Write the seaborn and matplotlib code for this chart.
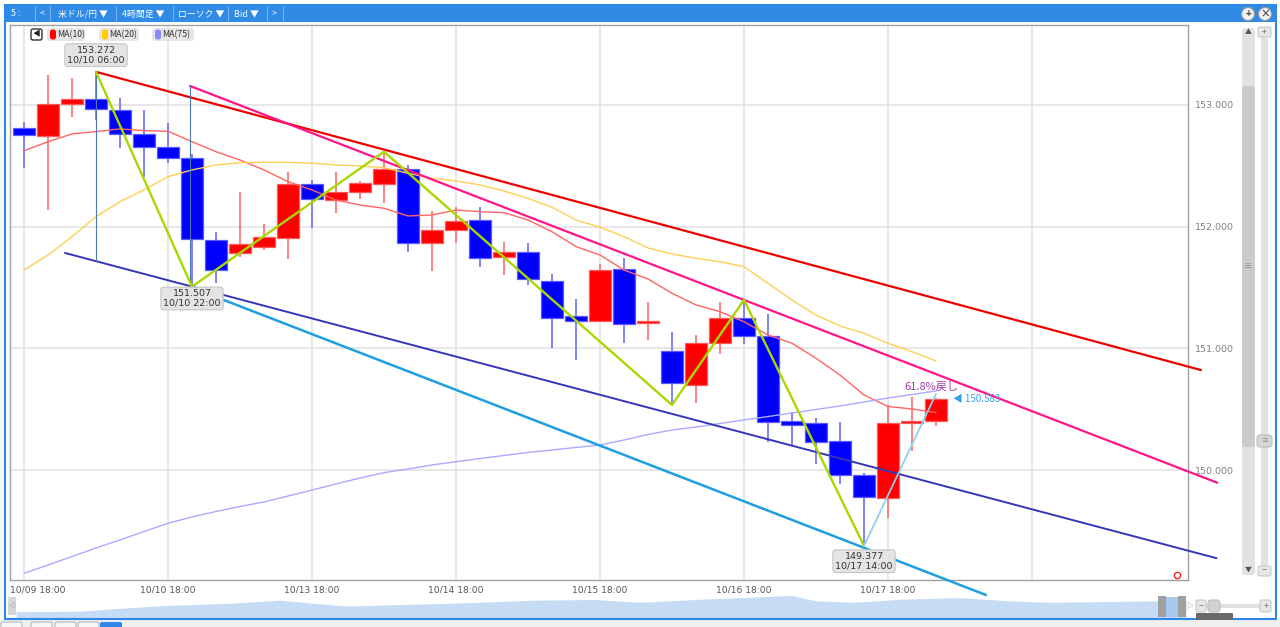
import numpy as np
import pandas as pd
import matplotlib
matplotlib.use("Agg")
import matplotlib.pyplot as plt
import matplotlib.transforms as mtransforms
from matplotlib.patches import Rectangle, FancyBboxPatch, Circle
import seaborn as sns

sns.set_theme(style="white")
plt.rcParams['font.family'] = ['DejaVu Sans', 'Noto Sans CJK JP']
JP = ['Noto Sans CJK JP', 'DejaVu Sans']

# --- USD/JPY 4時間足 (Bid) ---
opens = [152.813, 152.748, 153.008, 153.052, 152.956, 152.764, 152.655, 152.565, 151.891, 151.781,
         151.831, 151.905, 152.348, 152.219, 152.288, 152.351, 152.474, 151.869, 151.973, 152.055,
         151.753, 151.790, 151.554, 151.266, 151.225, 151.650, 151.206, 150.979, 150.699, 151.047,
         151.252, 151.102, 150.403, 150.385, 150.237, 149.962, 149.773, 150.390, 150.403]
highs = [152.863, 153.247, 153.219, 153.272, 153.060, 152.959, 152.855, 152.600, 151.954, 152.283,
         152.020, 152.447, 152.384, 152.452, 152.378, 152.616, 152.507, 152.131, 152.159, 152.164,
         151.877, 151.869, 151.609, 151.403, 151.694, 151.743, 151.385, 151.132, 151.110, 151.379,
         151.398, 151.283, 150.475, 150.431, 150.393, 149.974, 150.535, 150.598, 150.592]
lows = [152.480, 152.137, 152.904, 152.877, 152.649, 152.411, 152.526, 151.507, 151.540, 151.753,
        151.809, 151.732, 151.987, 152.115, 152.225, 152.197, 151.790, 151.636, 151.869, 151.671,
        151.603, 151.520, 151.006, 150.905, 151.221, 151.047, 151.065, 150.535, 150.550, 150.952,
        151.034, 150.233, 150.206, 150.048, 149.886, 149.377, 149.604, 150.159, 150.365]
closes = [152.753, 153.011, 153.052, 152.967, 152.762, 152.652, 152.562, 151.896, 151.644, 151.855,
          151.918, 152.348, 152.225, 152.288, 152.357, 152.474, 151.869, 151.973, 152.049, 151.745,
          151.795, 151.568, 151.247, 151.223, 151.644, 151.198, 151.228, 150.713, 151.047, 151.247,
          151.102, 150.393, 150.371, 150.228, 149.960, 149.777, 150.385, 150.406, 150.583]

ma10 = [152.624, 152.698, 152.762, 152.781, 152.803, 152.789, 152.784, 152.698, 152.616, 152.548,
        152.466, 152.370, 152.302, 152.219, 152.178, 152.151, 152.088, 152.096, 152.137, 152.123,
        152.115, 152.055, 151.959, 151.836, 151.767, 151.644, 151.570, 151.453, 151.357, 151.302,
        151.219, 151.110, 151.042, 150.919, 150.781, 150.617, 150.523, 150.502, 150.473]
ma20 = [151.644, 151.767, 151.918, 152.082, 152.205, 152.302, 152.411, 152.466, 152.507, 152.526,
        152.529, 152.529, 152.521, 152.507, 152.499, 152.485, 152.439, 152.398, 152.376, 152.343,
        152.293, 152.233, 152.159, 152.055, 151.995, 151.918, 151.825, 151.776, 151.740, 151.712,
        151.671, 151.535, 151.398, 151.274, 151.184, 151.124, 151.042, 150.973, 150.896]
ma75 = [149.152, 149.220, 149.290, 149.360, 149.426, 149.495, 149.563, 149.615, 149.660, 149.701,
        149.738, 149.787, 149.836, 149.886, 149.935, 149.979, 150.009, 150.042, 150.069, 150.095,
        150.120, 150.145, 150.165, 150.186, 150.206, 150.247, 150.293, 150.329, 150.354, 150.383,
        150.412, 150.440, 150.469, 150.498, 150.527, 150.560, 150.592, 150.621, 150.650]
ma_names = ["MA(10)", "MA(20)", "MA(75)"]

x_tick_pos = [0, 6, 12, 18, 24, 30, 36, 42]
x_labels = ["10/09 18:00", "10/10 18:00", "10/13 18:00", "10/14 18:00",
            "10/15 18:00", "10/16 18:00", "10/17 18:00", ""]
y_ticks = [150.0, 151.0, 152.0, 153.0]

# drawn lines (candle index, price)
upper_x, upper_y = [3, 49.04], [153.272, 150.822]
lower_x, lower_y = [1.708, 49.69], [151.784, 149.276]
pink_x, pink_y = [6.917, 49.72], [153.156, 149.896]
cyan_x, cyan_y = [6.917, 40.08], [151.505, 148.974]
conn1_x, conn1_y = [3, 3], [153.272, 151.716]
conn2_x, conn2_y = [6.917, 6.917], [153.156, 151.505]
zig_x = [3, 7, 15, 27, 30, 35]
zig_y = [153.272, 151.507, 152.616, 150.535, 151.398, 149.377]
fib_x, fib_y = [35, 38], [149.377, 150.626]

marks = [(3, 153.272, "10/10 06:00", 12.0),
         (7, 151.507, "10/10 22:00", -8.5),
         (35, 149.377, "10/17 14:00", -11.0)]

nav_x = [16, 82, 106, 164, 230, 279, 311, 348, 389, 451, 492, 533, 594, 639, 701, 792,
         816, 853, 902, 960, 1009, 1050, 1091, 1156, 1186]
nav_level = [0.7, 1.3, 3.3, 7.3, 9.7, 13.0, 10.0, 6.7, 8.0, 9.7, 11.3, 13.0, 13.7, 10.7, 14.0,
             18.0, 12.3, 10.7, 14.0, 15.7, 12.3, 10.7, 11.3, 12.3, 13.0]

W, H = 1280, 627
fig = plt.figure(figsize=(12.8, 6.27), dpi=100)
fig.patch.set_facecolor('white')


def frac(x0, y0, x1, y1):
    return [x0 / W, 1 - y1 / H, (x1 - x0) / W, (y1 - y0) / H]


ax = fig.add_axes(frac(10, 25, 1188, 580), zorder=2)
ax.set_facecolor('white')

idx = np.arange(len(opens))
o, c = np.array(opens), np.array(closes)
up = c >= o
ax.vlines(idx, lows, highs, colors=np.where(up, '#ff7777', '#7777ff'), lw=1.3, zorder=3)
ax.bar(idx, np.maximum(np.abs(c - o), 0.012), bottom=np.minimum(o, c), width=0.9,
       color=np.where(up, '#ff0000', '#0000ff'), edgecolor=np.where(up, '#ff5a5a', '#5a5aff'),
       linewidth=0.9, zorder=4)

ma = pd.DataFrame({'idx': idx, ma_names[0]: ma10, ma_names[1]: ma20, ma_names[2]: ma75})
for name, col in zip(ma_names, ['#ff6464', '#ffcf55', '#aaaaff']):
    sns.lineplot(data=ma, x='idx', y=name, ax=ax, color=col, lw=1.0, zorder=5, legend=False)

ax.plot(upper_x, upper_y, color='#ee0000', lw=1.6, zorder=6, clip_on=False)
ax.plot(lower_x, lower_y, color='#3535b8', lw=1.4, zorder=6, clip_on=False)
ax.plot(pink_x, pink_y, color='#ff1585', lw=1.6, zorder=6, clip_on=False)
ax.plot(cyan_x, cyan_y, color='#1d9fe0', lw=1.8, zorder=6, clip_on=False)
ax.plot(conn1_x, conn1_y, color='#4f78b0', lw=0.8, zorder=6)
ax.plot(conn2_x, conn2_y, color='#4f78b0', lw=0.8, zorder=6)
ax.plot(zig_x, zig_y, color='#a8d800', lw=1.7, zorder=7)
ax.plot(fib_x, fib_y, color='#8fd0ea', lw=1.3, zorder=7)

for mx, my, when, dy in marks:
    ax.annotate(f"{my:.3f}\n{when}", xy=(mx, my), xytext=(0, dy), textcoords='offset points',
                ha='center', va='center', fontsize=6.8, color='#333333', linespacing=1.0, zorder=9,
                bbox=dict(boxstyle='round,pad=0.25,rounding_size=0.3', fc='#e4e4e4', ec='#c6c6c6', lw=0.8))

ax.annotate("61.8%戻し", xy=(fib_x[1], fib_y[1]), xytext=(-3, 5), textcoords='offset points',
            ha='center', va='center', fontsize=8, color='#a03aa8', family=JP, zorder=9)
ax.annotate(f"◀ {closes[-1]:.3f}", xy=(idx[-1], closes[-1]), xytext=(12, 0), textcoords='offset points',
            ha='left', va='center', fontsize=7, color='#33a0ee', family=JP, zorder=9)

ax.set_xlim(-0.583, 48.5)
ax.set_ylim(149.097, 153.657)
ax.set_xlabel('')
ax.set_ylabel('')
ax.set_xticks(x_tick_pos)
ax.set_xticklabels(x_labels)
ax.set_yticks(y_ticks)
ax.set_yticklabels([f"{v:.3f}" for v in y_ticks])
ax.yaxis.tick_right()
ax.tick_params(axis='x', length=0, pad=4, labelsize=6.6, labelcolor='#555555')
ax.tick_params(axis='y', length=0, pad=5, labelsize=6.8, labelcolor='#808080')
lab0 = ax.get_xticklabels()[0]
lab0.set_ha('left')
lab0.set_transform(lab0.get_transform() + mtransforms.ScaledTranslation(-0.14, 0, fig.dpi_scale_trans))
ax.grid(True, color='#e0e0e0', lw=1.1)
for sp in ax.spines.values():
    sp.set_color('#a0a0a0')
    sp.set_linewidth(1.0)

# navigator strip
nav = fig.add_axes(frac(16, 595, 1186, 618), zorder=1)
nav.fill_between(nav_x, -6, nav_level, color='#c6dcf4', lw=0)
nav.set_xlim(16, 1186)
nav.set_ylim(-6, 18.5)
nav.axis('off')

# window chrome
ov = fig.add_axes([0, 0, 1, 1], zorder=3)
ov.set_xlim(0, W)
ov.set_ylim(H, 0)
ov.axis('off')
ov.patch.set_alpha(0)


def box(x, y, w, h, fc, ec='none', r=0, lw=0.8):
    if r:
        p = FancyBboxPatch((x, y), w, h, boxstyle=f"round,pad=0,rounding_size={r}", fc=fc, ec=ec, lw=lw)
    else:
        p = Rectangle((x, y), w, h, fc=fc, ec=ec, lw=lw)
    ov.add_patch(p)


def label(x, y, s, size=7, color='#333333', ha='left', **kw):
    ov.text(x, y, s, fontsize=size, color=color, ha=ha, va='center', family=JP, **kw)


box(0, 620, W, 7, '#f0f0f0')
for tx in [1, 31, 55, 78]:
    box(tx, 622, 21, 8, '#f6f6f6', ec='#b8b8b8', r=2)
box(100, 622, 22, 8, '#2e86e6', r=2)
box(5, 5, 1271, 614, 'none', ec='#2e86e6', lw=1.5)
box(5, 5, 1271, 17, '#2f8be6')
for sx in [35, 50, 116, 173, 228, 267, 283]:
    ov.plot([sx, sx], [6, 21], color='#75b1f0', lw=0.8)
for s, tx in [("5 :", 11), ("<", 40), ("米ドル/円 ▼", 58), ("4時間足 ▼", 122),
              ("ローソク ▼", 178), ("Bid ▼", 234), (">", 272)]:
    label(tx, 14, s, size=6.4, color='white')
for cx, g in [(1248, "+"), (1265, "×")]:
    ov.add_patch(Circle((cx, 14), 6.5, fc='#f2f2f2', ec='#9a9a9a', lw=0.8))
    label(cx, 14, g, size=7, color='#444444', ha='center', weight='bold')

# legend row
box(31, 29, 11, 11, 'white', ec='#333333', r=2, lw=1.0)
label(36.5, 34.5, "◀", size=5.5, color='#222222', ha='center')
for (lx, lw_), name, col in zip([(47, 38), (99, 40), (152, 42)], ma_names, ['#ff0000', '#ffcc00', '#8a8aff']):
    box(lx, 28, lw_, 13, '#e6e6e6', r=3)
    box(lx + 3, 29.5, 6, 10, col, r=2.5)
    label(lx + 10, 34.5, name, size=6.3, color='#333333')

# right scroll bars
box(1242, 28, 13, 547, '#e2e2e2', r=3)
box(1242, 86, 13, 361, '#cbcbcb', r=3)
label(1248.5, 267, "≡", size=6, color='#888888', ha='center')
label(1248.5, 32, "▲", size=5, color='#555555', ha='center')
label(1248.5, 570, "▼", size=5, color='#555555', ha='center')
box(1261, 37, 7, 529, '#e2e2e2', r=2)
box(1258, 27, 13, 10, '#e6e6e6', ec='#c8c8c8', r=2)
label(1264.5, 32, "+", size=6.5, color='#777777', ha='center')
box(1258, 566, 13, 10, '#e6e6e6', ec='#c8c8c8', r=2)
label(1264.5, 571, "−", size=6.5, color='#777777', ha='center')
box(1257, 435, 15, 12, '#d6d6d6', ec='#bdbdbd', r=3)
label(1264.5, 441, "≡", size=5, color='#888888', ha='center')
ov.plot([1177], [575], 'o', mfc='none', mec='#ee2222', ms=4.5, mew=1)

# navigator controls
box(8, 597, 8, 18, '#d6d6d6')
label(12, 606, "◁", size=5, color='#888888', ha='center')
box(1166, 597, 12, 20, '#a6c9ef')
box(1158, 596, 8, 21, '#a0a0a0')
box(1178, 596, 8, 21, '#a0a0a0')
label(1190, 606, "▷", size=5, color='#777777', ha='center')
box(1206, 604, 56, 4, '#e0e0e0', r=1.5)
box(1196, 600, 10, 12, '#e6e6e6', ec='#c8c8c8', r=2)
label(1201, 606, "−", size=6, color='#777777', ha='center')
box(1260, 600, 11, 12, '#e6e6e6', ec='#c8c8c8', r=2)
label(1265.5, 606, "+", size=6, color='#777777', ha='center')
box(1208, 600, 12, 12, '#d2d2d2', ec='#bdbdbd', r=3)
box(1196, 613, 37, 7, '#6a6a6a', r=1)

fig.savefig("out.png", dpi=100, facecolor=fig.get_facecolor())
